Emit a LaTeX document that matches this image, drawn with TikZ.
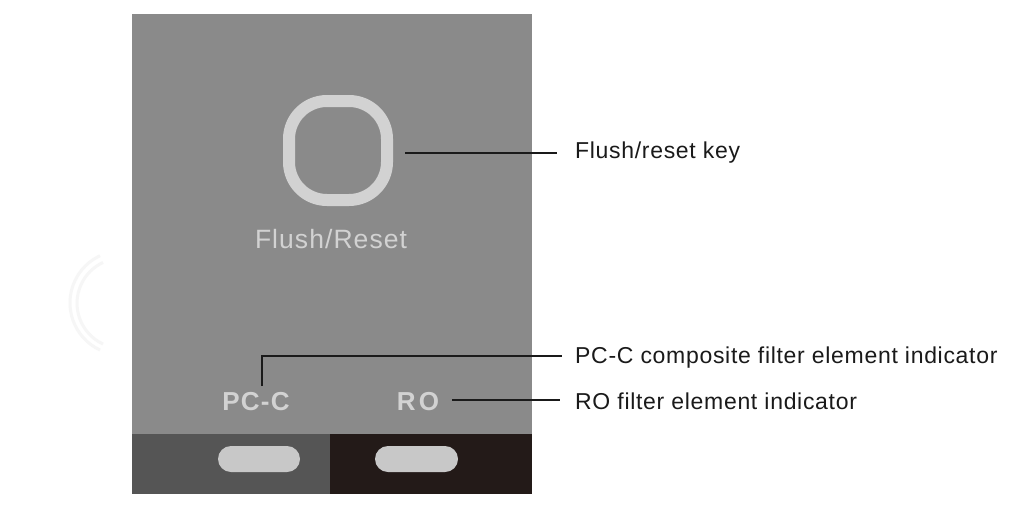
\documentclass[tikz,border=0pt]{standalone}
\usepackage{fontspec}
\setmainfont{Liberation Sans}
\definecolor{panel}{HTML}{8A8A8A}
\definecolor{keygray}{HTML}{D2D2D2}
\definecolor{leftbar}{HTML}{555555}
\definecolor{rightbar}{HTML}{231A18}
\definecolor{pill}{HTML}{C8C8C8}
\definecolor{lbl}{HTML}{1A1A1A}
\tikzset{
  leader/.style={draw=lbl, line width=1.6pt},
  callout/.style={anchor=west, text=lbl, inner sep=0pt, font=\fontsize{23}{27}\selectfont\addfontfeatures{LetterSpace=3}},
  paneltext/.style={text=keygray, inner sep=0pt, font=\fontsize{26.5}{30}\selectfont\addfontfeatures{LetterSpace=4}},
  indtext/.style={text=keygray, inner sep=0pt, font=\bfseries\fontsize{26}{30}\selectfont\addfontfeatures{LetterSpace=5}},
  indtextwide/.style={indtext, font=\bfseries\fontsize{26}{30}\selectfont\addfontfeatures{LetterSpace=12}},
  pillshape/.style={fill=pill, rounded corners=13pt},
  faint/.style={draw=gray!7, line width=3pt},
}
\begin{document}
\begin{tikzpicture}[x=1pt,y=-1pt]
\useasboundingbox (0,0) rectangle (1024,511);
\fill[white] (0,0) rectangle (1024,511);
% faint arcs on left
\draw[faint] (100,350) arc[start angle=115, end angle=245, radius=52];
\draw[faint] (103,344) arc[start angle=115, end angle=245, radius=45];
% panel
\fill[panel] (132,14) rectangle (532,494);
\fill[leftbar] (132,434) rectangle (330,494);
\fill[rightbar] (330,434) rectangle (532,494);
% key
\draw[keygray, line width=12pt, rounded corners=38pt] (289,101) rectangle (387,200);
\coordinate (keyR) at (405,153);
\node[paneltext] (fr) at (331,239) {Flush/Reset};
% indicators
\node[indtext] (pcc) at (256,402) {PC-C};
\node[indtextwide] (ro) at (418,402) {RO};
% pills
\fill[pillshape] (218,446) rectangle (300,472);
\fill[pillshape] (375,446) rectangle (458,472);
% callout labels
\node[callout] (l1) at (575,153) {Flush/reset key};
\node[callout] (l2) at (575,358) {PC-C composite filter element indicator};
\node[callout] (l3) at (575,401) {RO filter element indicator};
% leaders
\draw[leader] (keyR) -- (557,153);
\coordinate (pcctop) at (262,386);
\draw[leader] (pcctop) -- (262,356) -- (562,356);
\coordinate (roR) at (452,400);
\draw[leader] (roR) -- (560,400);
\end{tikzpicture}
\end{document}
